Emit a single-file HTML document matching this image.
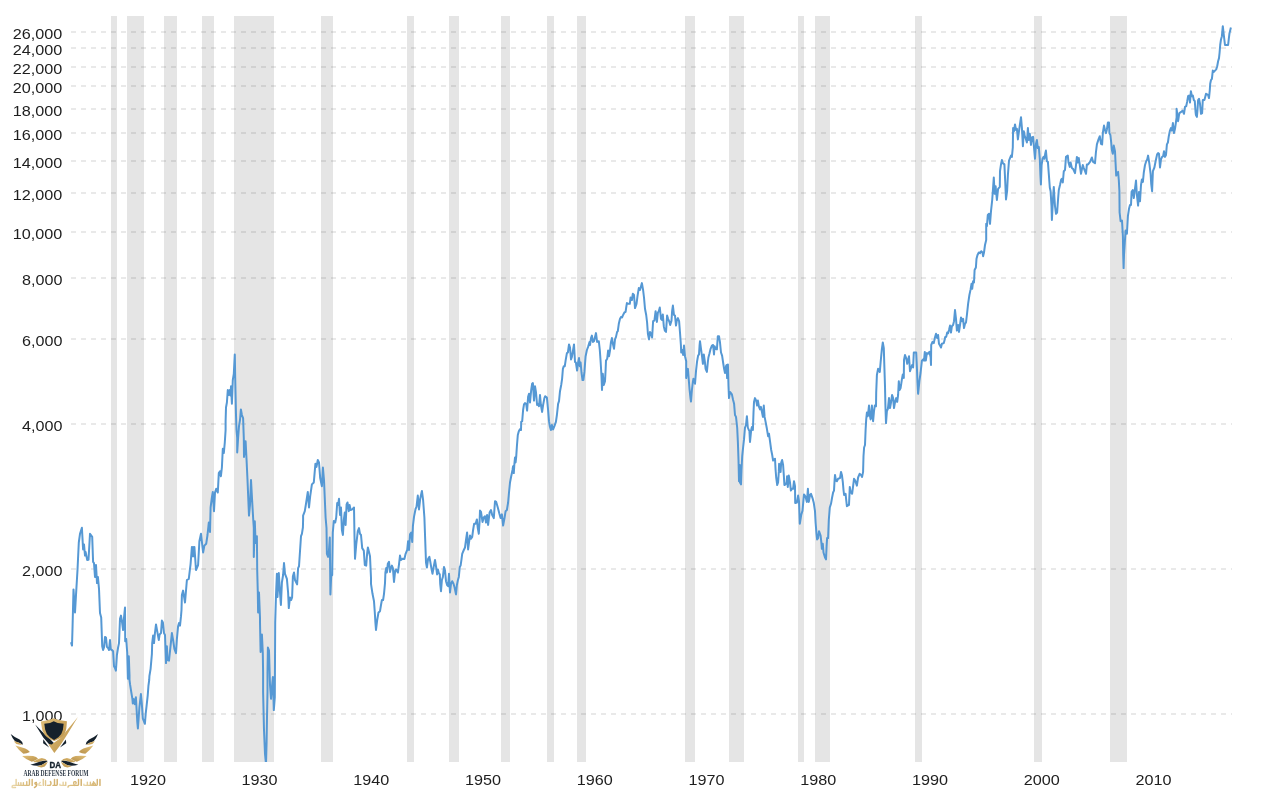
<!DOCTYPE html>
<html><head><meta charset="utf-8"><title>Chart</title>
<style>
html,body{margin:0;padding:0;background:#fff;}
body{width:1280px;height:790px;overflow:hidden;font-family:"Liberation Sans",sans-serif;}
svg{display:block;will-change:transform;}
text{font-family:"Liberation Sans",sans-serif;fill:#1e1e1e;}
</style></head><body>
<svg width="1280" height="790" viewBox="0 0 1280 790">
<rect width="1280" height="790" fill="#fff"/>
<defs><clipPath id="plot"><rect x="60" y="16" width="1180" height="746"/></clipPath></defs>

<g fill="#000" fill-opacity="0.1" shape-rendering="crispEdges">
<rect x="111" y="16" width="6" height="746"/>
<rect x="127" y="16" width="17" height="746"/>
<rect x="164" y="16" width="13" height="746"/>
<rect x="202" y="16" width="12" height="746"/>
<rect x="234" y="16" width="40" height="746"/>
<rect x="321" y="16" width="12" height="746"/>
<rect x="407" y="16" width="7" height="746"/>
<rect x="449" y="16" width="10" height="746"/>
<rect x="501" y="16" width="9" height="746"/>
<rect x="547" y="16" width="7" height="746"/>
<rect x="577" y="16" width="9" height="746"/>
<rect x="685" y="16" width="10" height="746"/>
<rect x="729" y="16" width="15" height="746"/>
<rect x="798" y="16" width="6" height="746"/>
<rect x="815" y="16" width="15" height="746"/>
<rect x="915" y="16" width="7" height="746"/>
<rect x="1034" y="16" width="8" height="746"/>
<rect x="1110" y="16" width="17" height="746"/>
</g>
<g stroke="#000" stroke-opacity="0.085" stroke-width="2" stroke-dasharray="5,5" shape-rendering="crispEdges">
<line x1="71" y1="32" x2="1232" y2="32"/>
<line x1="71" y1="48" x2="1232" y2="48"/>
<line x1="71" y1="67" x2="1232" y2="67"/>
<line x1="71" y1="86" x2="1232" y2="86"/>
<line x1="71" y1="109" x2="1232" y2="109"/>
<line x1="71" y1="133" x2="1232" y2="133"/>
<line x1="71" y1="161" x2="1232" y2="161"/>
<line x1="71" y1="193" x2="1232" y2="193"/>
<line x1="71" y1="232" x2="1232" y2="232"/>
<line x1="71" y1="278" x2="1232" y2="278"/>
<line x1="71" y1="339" x2="1232" y2="339"/>
<line x1="71" y1="424" x2="1232" y2="424"/>
<line x1="71" y1="569" x2="1232" y2="569"/>
<line x1="71" y1="714" x2="1232" y2="714"/>
</g>
<path clip-path="url(#plot)" d="M71.0,642.2 L72.0,645.6 L72.5,628.8 L73.5,589.4 L75.0,612.5 L76.0,595.0 L77.5,570.0 L78.8,542.5 L80.0,533.8 L81.9,527.8 L83.1,549.4 L84.0,544.4 L85.0,555.6 L85.6,551.9 L87.2,560.0 L88.5,559.8 L90.0,533.8 L92.2,536.9 L93.1,561.9 L94.0,563.1 L95.0,576.9 L96.0,565.0 L97.0,583.1 L97.9,576.9 L99.0,588.8 L100.0,613.1 L101.2,617.5 L102.2,646.2 L103.1,650.0 L104.0,647.5 L105.0,636.9 L106.0,637.5 L106.9,646.9 L108.1,648.1 L109.0,650.0 L110.0,640.0 L110.8,649.4 L111.9,650.0 L113.1,651.2 L114.0,666.2 L115.0,668.1 L115.9,670.6 L116.9,655.0 L118.1,647.5 L119.0,643.1 L120.0,618.8 L121.0,615.6 L122.1,622.5 L123.1,630.0 L124.0,617.5 L125.0,607.5 L125.2,641.2 L126.2,639.0 L127.2,652.5 L127.9,678.8 L128.8,656.2 L129.5,675.0 L129.5,680.0 L130.1,684.7 L131.2,691.7 L132.4,698.8 L132.8,703.4 L133.8,699.1 L134.8,704.2 L135.9,697.2 L136.7,711.2 L137.3,722.2 L137.9,728.4 L138.7,717.5 L139.4,707.3 L140.9,694.1 L141.8,703.4 L142.8,718.3 L144.9,723.8 L145.7,713.6 L146.5,706.6 L147.7,695.6 L148.4,686.2 L149.2,680.0 L149.4,676.2 L150.6,668.8 L151.9,653.8 L152.2,643.1 L153.1,635.6 L154.0,643.1 L155.0,632.5 L156.0,624.4 L157.2,631.2 L158.8,640.0 L159.6,634.4 L161.0,633.1 L161.9,620.6 L162.9,622.5 L164.0,633.1 L165.0,635.0 L166.0,663.1 L166.9,646.2 L167.5,660.0 L169.0,660.6 L170.0,651.2 L171.9,633.1 L173.1,640.0 L174.4,648.8 L176.0,653.1 L176.9,638.8 L178.1,626.2 L179.0,623.1 L180.0,625.6 L181.0,616.2 L181.5,610.0 L181.9,595.0 L183.1,590.6 L185.0,602.5 L186.9,580.0 L188.8,578.8 L190.6,563.8 L191.9,546.9 L192.5,556.2 L193.1,546.9 L193.8,556.2 L194.4,546.9 L196.0,570.0 L198.1,565.0 L199.4,541.2 L201.0,533.8 L203.1,552.5 L204.4,545.6 L206.2,543.8 L207.5,535.0 L208.8,522.5 L210.0,531.9 L210.6,507.5 L211.9,497.5 L212.8,491.9 L214.0,511.2 L215.0,492.5 L216.2,488.8 L217.8,492.5 L218.8,473.1 L220.0,471.2 L220.9,476.2 L221.9,467.5 L222.8,448.8 L223.8,453.1 L224.8,442.5 L225.6,430.0 L225.6,421.2 L226.0,407.5 L226.9,402.5 L227.8,390.0 L228.8,395.0 L229.8,390.0 L230.6,395.6 L231.0,386.2 L231.9,403.8 L232.8,380.0 L233.8,373.8 L234.8,354.4 L235.2,377.5 L235.6,396.2 L236.0,415.0 L236.5,430.0 L237.2,438.0 L237.2,452.5 L238.1,438.0 L239.0,426.2 L240.0,420.0 L240.9,409.4 L241.9,415.0 L243.1,418.1 L243.8,438.0 L244.0,456.9 L245.6,441.2 L246.5,458.8 L247.5,480.0 L249.0,515.6 L250.0,505.0 L251.0,480.0 L252.1,500.0 L253.1,517.5 L253.8,528.0 L253.8,556.9 L254.8,521.2 L255.6,543.1 L256.9,536.2 L257.2,570.0 L257.8,592.5 L258.1,612.5 L259.0,592.5 L260.0,618.0 L260.0,622.5 L260.6,651.9 L261.9,634.4 L262.8,653.1 L263.1,672.5 L263.1,692.0 L264.0,730.0 L265.0,754.0 L266.0,764.0 L266.6,742.0 L267.0,717.0 L267.5,692.0 L267.5,672.5 L267.9,647.5 L269.0,650.6 L270.0,685.0 L271.0,698.8 L271.9,687.5 L272.9,676.9 L273.8,710.1 L274.8,697.5 L275.2,622.5 L276.0,595.0 L276.9,573.8 L277.5,596.9 L278.8,573.1 L279.8,590.0 L280.9,605.0 L281.9,582.5 L283.1,575.0 L284.0,563.1 L285.0,573.8 L286.9,578.8 L288.1,592.5 L288.8,608.1 L290.0,597.5 L291.2,600.0 L292.1,597.5 L292.9,576.2 L294.0,572.5 L295.0,580.0 L297.1,584.4 L298.1,568.1 L299.0,566.2 L300.0,551.2 L301.0,536.2 L301.9,533.8 L302.9,527.5 L303.1,520.0 L303.1,515.6 L304.8,511.2 L306.2,502.5 L307.8,491.9 L309.0,507.5 L310.2,496.2 L311.9,484.4 L313.8,482.5 L315.4,463.8 L316.5,466.9 L317.8,460.0 L319.0,462.5 L320.2,478.1 L321.9,486.2 L322.9,467.5 L324.0,480.0 L324.8,498.8 L325.6,517.5 L326.5,528.0 L326.9,553.8 L328.1,556.9 L328.8,552.5 L329.8,537.5 L330.4,594.4 L331.2,576.0 L332.2,575.0 L332.8,532.5 L333.8,521.0 L335.2,522.5 L336.2,517.5 L337.2,503.1 L338.1,505.0 L339.0,498.8 L340.0,515.0 L341.0,507.5 L341.9,530.0 L342.9,535.0 L343.8,520.0 L344.8,512.5 L345.6,525.0 L346.6,504.4 L347.5,502.5 L348.8,511.2 L349.6,505.0 L350.6,510.0 L352.2,509.4 L354.0,507.5 L354.5,536.2 L355.0,558.8 L356.2,545.0 L357.8,531.2 L359.0,528.1 L360.0,533.8 L361.0,535.0 L362.2,548.1 L363.8,550.6 L364.8,565.0 L366.2,565.6 L367.1,553.8 L367.9,547.5 L369.0,551.9 L370.0,556.2 L371.0,578.0 L371.0,583.8 L372.5,593.8 L374.0,601.2 L374.8,612.5 L375.4,622.5 L376.0,630.0 L377.2,620.0 L378.5,612.5 L380.0,611.2 L381.0,605.0 L381.9,600.0 L383.1,600.0 L384.0,593.8 L385.0,583.1 L385.4,572.5 L386.2,568.1 L386.9,572.5 L387.8,563.8 L389.0,561.9 L390.0,571.9 L391.0,568.1 L391.9,565.6 L392.9,568.1 L394.0,581.9 L395.2,570.6 L396.2,569.4 L397.9,572.5 L399.0,564.4 L400.0,555.6 L401.0,560.0 L402.5,558.8 L404.4,559.0 L405.6,553.8 L406.9,550.6 L407.2,550.0 L408.1,541.2 L409.0,550.0 L410.0,534.4 L411.2,532.5 L412.2,541.9 L412.9,526.2 L414.0,516.9 L415.6,508.8 L416.5,506.9 L417.8,495.6 L419.0,509.4 L420.2,498.8 L421.9,491.0 L423.1,500.0 L424.4,517.5 L425.2,540.0 L426.0,562.5 L426.9,567.5 L428.1,558.8 L429.4,556.9 L430.2,561.2 L431.5,568.8 L432.5,573.8 L433.8,566.2 L435.0,560.0 L436.2,567.5 L437.1,574.4 L437.9,569.4 L438.8,573.1 L439.8,574.4 L440.2,583.8 L441.0,591.2 L441.9,580.0 L442.9,576.9 L444.0,566.9 L445.0,570.6 L446.0,581.2 L447.1,585.0 L448.1,586.2 L449.0,573.8 L450.0,592.5 L451.0,583.8 L452.2,581.2 L453.5,583.8 L454.6,587.5 L456.0,594.4 L456.9,585.0 L457.8,580.6 L458.8,576.9 L459.8,566.9 L460.6,565.6 L461.5,559.4 L462.2,553.8 L463.8,550.0 L465.0,547.5 L466.0,540.0 L467.1,532.5 L468.1,549.4 L469.0,542.5 L470.0,535.6 L471.0,538.8 L472.2,536.9 L473.1,530.0 L474.1,523.8 L475.6,523.8 L476.9,519.4 L477.8,528.1 L478.8,533.8 L479.6,521.2 L480.0,510.6 L481.0,511.9 L482.5,521.9 L483.8,517.5 L485.0,516.2 L486.0,522.5 L487.1,515.0 L488.1,525.0 L489.6,512.5 L491.0,510.0 L492.2,515.0 L493.8,518.1 L495.0,501.2 L496.2,501.9 L497.8,507.5 L499.4,513.8 L500.6,518.1 L501.9,514.4 L503.1,525.6 L504.4,518.8 L505.6,511.2 L506.9,510.0 L508.1,502.5 L509.0,492.5 L510.0,482.5 L511.2,476.2 L512.5,470.0 L513.1,466.2 L513.8,473.1 L514.4,463.8 L515.0,457.5 L515.6,462.5 L516.2,456.9 L516.9,446.2 L517.8,435.0 L518.8,431.2 L519.8,429.4 L521.0,430.0 L521.2,421.9 L522.2,421.2 L523.1,410.0 L524.0,404.4 L525.0,403.1 L526.2,403.8 L527.1,410.6 L528.1,396.9 L529.0,393.8 L530.0,402.5 L531.2,390.0 L532.1,383.8 L532.9,383.1 L534.0,400.6 L535.0,386.2 L536.0,392.5 L537.1,405.0 L538.1,404.4 L539.0,406.2 L540.0,395.0 L540.9,405.0 L542.1,411.9 L543.1,405.0 L544.4,398.1 L545.2,396.2 L546.9,397.5 L548.1,410.0 L549.0,421.2 L549.8,426.2 L550.9,430.0 L551.9,425.0 L553.1,429.4 L554.4,426.2 L555.9,421.9 L556.9,415.0 L558.1,403.8 L559.0,401.2 L560.0,391.2 L561.2,385.0 L562.1,378.8 L562.9,368.8 L563.8,366.2 L564.8,366.2 L565.6,360.6 L566.9,353.1 L567.9,352.5 L569.0,344.4 L570.0,347.5 L571.0,359.4 L571.9,356.9 L572.9,351.2 L574.0,344.4 L575.0,361.9 L575.9,362.5 L577.1,370.6 L578.1,362.5 L579.0,358.1 L579.8,366.2 L580.6,362.5 L581.5,372.5 L582.5,380.0 L583.4,380.0 L584.4,371.9 L585.6,356.2 L586.9,350.0 L588.1,346.9 L589.6,341.9 L590.0,345.0 L591.0,338.1 L591.9,335.6 L592.9,341.9 L594.0,341.2 L595.0,336.9 L596.0,333.1 L597.1,341.9 L598.8,341.2 L599.8,350.0 L600.6,361.2 L601.5,376.2 L602.0,390.0 L602.8,373.8 L603.8,385.0 L605.0,381.2 L605.6,370.0 L606.0,360.6 L607.2,358.8 L608.1,350.6 L609.0,356.2 L610.0,350.6 L610.9,342.5 L611.9,338.1 L612.9,343.8 L614.0,348.8 L615.0,339.4 L616.0,336.9 L617.1,331.9 L617.8,331.2 L618.8,323.8 L620.0,318.8 L621.2,316.9 L622.1,317.5 L623.1,315.0 L624.4,312.5 L625.6,311.9 L626.2,307.5 L626.9,303.1 L628.1,303.8 L629.8,303.8 L630.6,297.5 L631.9,300.0 L632.8,293.8 L634.0,295.0 L635.0,308.1 L636.5,303.8 L637.5,296.2 L638.8,288.1 L640.0,290.0 L641.9,283.1 L643.1,290.0 L644.0,297.5 L645.0,308.8 L646.2,315.0 L647.1,322.5 L647.9,333.8 L649.0,339.4 L650.0,331.9 L651.0,333.8 L652.1,337.5 L653.1,321.2 L654.4,320.6 L655.6,311.2 L656.9,321.9 L657.9,312.5 L658.8,311.2 L659.8,307.5 L661.0,318.8 L661.9,320.0 L662.8,314.4 L663.8,326.2 L664.8,330.6 L666.0,331.9 L667.1,315.6 L668.1,318.8 L669.4,321.9 L670.2,325.0 L671.5,320.6 L672.1,311.2 L672.9,305.6 L674.0,315.0 L675.0,315.6 L676.0,325.6 L676.9,320.0 L677.9,318.1 L679.1,321.2 L680.0,332.5 L680.9,345.0 L681.2,352.5 L682.5,350.0 L683.1,355.0 L684.0,345.6 L685.0,356.2 L686.2,361.2 L686.2,378.1 L686.9,371.2 L687.9,368.8 L688.8,380.0 L689.6,390.0 L690.4,397.5 L691.0,401.5 L691.9,390.0 L692.8,382.5 L693.4,378.8 L695.0,383.8 L696.0,371.2 L697.1,361.2 L698.1,355.6 L699.0,354.4 L699.6,345.0 L700.0,341.2 L701.0,348.8 L702.1,356.9 L702.9,363.8 L703.8,354.4 L704.8,361.2 L705.6,368.8 L706.9,371.9 L707.8,362.5 L708.4,357.5 L709.4,353.8 L710.6,348.8 L711.9,345.6 L713.1,345.0 L714.0,354.4 L714.6,346.2 L715.6,348.8 L716.9,349.4 L717.8,336.2 L719.0,336.2 L720.0,342.5 L721.0,352.5 L722.1,355.6 L723.1,362.5 L724.1,368.8 L725.0,373.1 L726.0,366.2 L726.6,365.0 L727.1,378.1 L727.9,364.4 L728.5,386.2 L729.0,398.1 L730.0,391.9 L731.9,394.4 L733.1,400.0 L734.1,403.8 L735.0,415.0 L736.0,416.9 L736.9,425.0 L737.2,428.0 L737.9,442.5 L738.5,460.0 L739.0,481.2 L739.8,465.0 L740.0,482.5 L741.0,484.4 L741.5,470.0 L742.2,456.2 L743.1,447.5 L744.0,439.4 L745.0,427.5 L746.0,425.0 L746.9,416.2 L747.8,427.5 L748.8,430.0 L749.4,430.6 L750.0,441.9 L751.2,430.0 L751.9,426.9 L752.9,430.0 L753.5,412.5 L754.0,401.9 L755.0,398.1 L756.2,400.6 L757.1,405.6 L757.9,400.6 L759.0,406.9 L760.0,409.4 L760.9,406.9 L761.9,411.9 L762.9,416.9 L763.8,405.6 L764.6,416.9 L765.6,421.9 L766.9,428.8 L768.1,436.2 L769.0,433.8 L770.0,441.2 L771.2,450.0 L772.2,455.0 L773.1,460.6 L775.0,458.8 L775.6,470.0 L776.2,477.5 L777.2,485.0 L778.1,482.5 L778.8,471.9 L779.1,463.8 L780.0,465.0 L780.6,471.9 L781.2,462.5 L782.1,460.0 L783.1,465.0 L783.8,475.0 L784.4,485.0 L785.6,484.4 L786.6,482.5 L787.1,476.2 L787.8,486.9 L788.8,475.6 L790.0,482.5 L790.9,490.6 L791.9,488.8 L793.1,488.8 L794.0,481.2 L795.0,486.2 L795.2,503.1 L796.9,502.5 L798.1,495.6 L799.0,501.2 L799.8,523.8 L801.2,515.0 L802.5,510.6 L803.4,500.6 L804.0,494.4 L805.6,496.9 L806.9,501.9 L807.9,488.8 L808.8,501.9 L810.0,495.0 L811.0,493.8 L812.5,498.1 L813.8,503.1 L815.0,511.2 L815.6,522.5 L816.5,533.8 L817.1,539.4 L818.1,538.1 L819.0,531.2 L820.6,535.6 L821.5,543.8 L821.9,548.8 L822.8,543.8 L823.5,552.5 L825.0,557.5 L826.0,559.4 L826.6,546.2 L827.1,538.1 L828.1,538.1 L828.8,520.0 L829.8,507.5 L831.0,503.8 L832.1,497.5 L833.1,492.5 L834.0,490.6 L834.6,480.0 L835.0,475.0 L836.0,480.6 L836.9,481.2 L838.1,478.8 L840.0,478.1 L841.0,471.9 L841.9,475.0 L842.8,481.9 L843.5,490.0 L844.1,495.0 L845.6,493.8 L846.2,500.0 L846.9,506.2 L849.0,505.0 L849.8,486.9 L850.6,491.9 L852.1,493.8 L853.1,486.2 L854.0,478.8 L855.2,480.6 L856.9,485.6 L858.1,477.5 L859.6,473.8 L861.0,475.0 L862.1,476.9 L863.1,471.9 L863.1,471.2 L863.5,456.2 L864.1,447.5 L865.0,445.0 L865.6,430.0 L866.2,419.4 L866.9,412.5 L867.8,416.2 L868.4,411.2 L869.0,405.6 L869.8,415.0 L870.6,419.4 L871.2,415.0 L871.9,405.6 L872.5,415.0 L873.1,421.2 L874.0,411.2 L874.8,405.6 L876.0,406.2 L876.2,392.5 L876.9,375.0 L878.1,368.8 L879.8,371.9 L880.6,362.5 L881.9,348.8 L882.8,342.5 L883.8,348.1 L884.4,367.5 L885.0,386.2 L885.4,405.0 L886.0,423.1 L886.9,411.2 L887.9,408.8 L889.0,398.1 L890.0,408.1 L891.0,402.5 L892.1,395.0 L893.1,398.1 L894.0,408.1 L895.2,401.2 L896.2,398.1 L897.2,401.9 L898.1,395.0 L898.8,381.2 L899.6,390.0 L900.6,388.1 L901.9,379.4 L902.8,374.4 L903.8,378.1 L904.0,360.0 L905.0,355.0 L906.2,358.1 L907.2,363.8 L908.1,360.0 L909.0,356.2 L910.0,371.2 L911.2,367.5 L912.1,365.0 L913.1,367.5 L913.8,352.5 L915.0,352.5 L916.2,352.5 L916.9,367.5 L917.5,382.5 L918.1,393.8 L919.4,381.2 L920.6,372.5 L921.9,360.6 L923.1,359.4 L924.0,360.6 L924.8,351.9 L925.8,360.6 L926.9,353.1 L928.1,353.8 L929.4,351.9 L930.6,356.9 L931.0,365.0 L931.2,345.0 L932.5,341.9 L933.8,343.1 L934.8,338.1 L936.0,333.8 L937.1,338.1 L938.1,335.0 L939.0,343.8 L940.0,345.6 L941.0,347.5 L941.9,343.8 L943.8,343.1 L944.6,340.0 L945.2,336.9 L946.2,336.9 L947.2,332.5 L948.1,333.1 L949.0,330.0 L950.0,325.6 L951.0,332.5 L951.9,326.2 L953.1,325.0 L954.0,321.2 L955.0,310.0 L956.0,318.8 L956.9,330.6 L958.1,325.0 L959.0,331.9 L960.0,325.0 L961.0,317.5 L962.1,321.2 L963.1,318.8 L964.0,328.1 L965.0,323.8 L966.0,322.5 L966.9,315.0 L968.1,303.8 L969.4,295.0 L970.6,289.4 L971.5,283.8 L972.2,288.8 L973.1,281.2 L974.0,282.5 L974.6,270.0 L975.9,267.5 L976.5,258.8 L977.5,255.0 L978.8,252.5 L980.0,253.1 L981.2,251.2 L982.5,252.5 L983.1,256.2 L984.0,252.5 L985.0,245.0 L986.2,240.0 L986.2,240.0 L986.2,223.8 L986.9,226.2 L987.8,215.0 L989.0,213.8 L990.0,223.8 L991.0,211.2 L992.2,200.0 L993.1,187.5 L993.8,177.5 L994.6,193.8 L995.6,186.2 L996.9,200.0 L998.1,188.8 L999.8,186.9 L1000.0,171.2 L1001.0,164.4 L1001.9,160.0 L1002.8,163.1 L1004.4,164.4 L1005.2,181.2 L1006.0,199.4 L1007.1,191.2 L1007.9,175.0 L1009.0,160.6 L1010.0,158.1 L1011.0,155.6 L1011.9,156.9 L1012.8,147.5 L1013.1,128.1 L1014.0,131.2 L1015.0,124.4 L1016.0,130.0 L1016.9,128.8 L1017.9,139.4 L1019.0,131.2 L1020.0,123.8 L1021.0,117.2 L1021.9,127.5 L1022.9,146.2 L1023.8,131.2 L1024.8,136.2 L1025.6,138.1 L1026.9,142.5 L1027.9,128.1 L1028.8,140.0 L1029.8,133.8 L1031.0,145.0 L1031.9,137.5 L1033.1,136.9 L1034.0,147.5 L1035.0,158.8 L1036.0,143.8 L1036.9,140.0 L1037.8,148.1 L1038.8,146.9 L1039.8,158.8 L1040.4,175.0 L1040.9,184.4 L1041.6,165.0 L1042.5,158.8 L1043.5,156.9 L1044.4,158.8 L1045.2,153.8 L1045.9,150.6 L1046.9,161.2 L1047.9,161.9 L1048.8,173.8 L1049.8,187.5 L1050.6,191.2 L1051.5,206.2 L1051.9,220.0 L1052.9,200.0 L1053.8,186.9 L1054.4,197.5 L1055.0,206.2 L1056.0,213.8 L1057.1,212.5 L1058.1,198.8 L1058.8,190.0 L1060.0,185.0 L1061.2,179.4 L1061.9,178.8 L1062.8,182.5 L1063.8,171.2 L1065.0,170.0 L1066.0,156.9 L1066.9,156.2 L1067.8,155.6 L1068.5,162.5 L1069.8,166.9 L1070.6,162.5 L1071.9,168.1 L1073.1,168.8 L1075.0,173.1 L1076.0,165.0 L1076.9,156.9 L1077.8,162.5 L1078.8,158.1 L1079.8,165.0 L1081.0,173.8 L1081.9,169.4 L1082.8,165.0 L1083.8,168.1 L1085.0,171.2 L1086.0,173.8 L1086.9,164.4 L1088.1,164.4 L1090.0,161.9 L1091.9,157.5 L1093.1,161.9 L1095.0,163.1 L1095.9,152.5 L1096.9,144.4 L1098.5,139.4 L1099.8,136.2 L1101.0,143.8 L1102.1,144.4 L1102.9,132.5 L1104.0,125.6 L1105.0,130.0 L1106.0,133.1 L1106.9,129.4 L1107.9,122.5 L1109.0,122.5 L1109.4,133.1 L1110.4,135.0 L1111.2,142.5 L1111.9,150.0 L1112.8,153.8 L1113.8,145.6 L1115.0,151.2 L1115.6,163.8 L1116.2,175.6 L1117.1,173.8 L1118.1,171.9 L1118.8,180.0 L1119.4,191.2 L1119.4,192.5 L1119.6,212.5 L1120.6,221.2 L1122.0,220.6 L1122.9,236.2 L1123.2,255.0 L1123.6,268.1 L1124.0,255.0 L1124.8,242.5 L1125.6,230.6 L1126.9,233.8 L1127.9,216.2 L1129.0,208.8 L1130.0,205.0 L1131.0,205.0 L1131.6,191.9 L1132.8,190.0 L1133.8,198.1 L1134.8,190.0 L1136.0,180.6 L1136.9,195.0 L1138.1,205.6 L1139.0,191.9 L1140.0,201.2 L1141.0,185.0 L1141.9,179.4 L1142.9,181.9 L1143.8,172.5 L1145.0,165.0 L1146.2,161.2 L1147.2,159.4 L1148.1,155.6 L1149.4,163.8 L1150.6,173.8 L1151.2,183.8 L1152.1,191.2 L1152.9,171.2 L1154.4,167.5 L1155.6,161.2 L1157.1,154.4 L1158.1,153.1 L1159.0,153.8 L1160.0,167.5 L1161.0,159.4 L1162.1,156.9 L1163.1,156.2 L1164.0,151.2 L1165.0,156.9 L1166.0,155.0 L1166.9,144.4 L1167.9,142.5 L1168.8,136.2 L1169.8,131.2 L1170.9,128.1 L1171.9,130.6 L1172.9,123.1 L1174.0,133.1 L1175.0,128.8 L1175.9,122.5 L1176.6,117.5 L1176.6,108.8 L1178.1,121.2 L1179.0,115.0 L1179.4,113.1 L1181.2,111.9 L1182.5,110.6 L1184.0,113.8 L1185.0,106.9 L1186.2,106.2 L1187.1,101.9 L1188.1,96.2 L1189.0,95.6 L1190.0,102.5 L1190.9,91.2 L1191.9,96.2 L1192.9,95.6 L1193.8,100.0 L1194.8,101.2 L1195.6,112.5 L1195.9,115.0 L1196.9,116.9 L1197.5,110.0 L1198.1,100.0 L1199.0,98.8 L1200.0,103.8 L1201.0,113.8 L1202.1,113.1 L1202.8,100.0 L1204.4,100.0 L1205.4,96.2 L1206.0,93.8 L1207.1,94.4 L1208.1,95.0 L1209.0,98.1 L1209.8,90.0 L1210.2,83.8 L1211.0,80.0 L1211.9,78.8 L1212.8,70.6 L1213.8,71.9 L1215.0,70.6 L1216.2,69.4 L1217.2,66.2 L1218.1,61.2 L1219.0,58.1 L1219.6,52.5 L1220.2,45.0 L1221.0,39.4 L1221.9,36.2 L1222.8,26.2 L1223.8,35.0 L1225.0,45.0 L1226.2,45.0 L1228.1,45.0 L1228.8,38.8 L1229.4,33.8 L1230.0,31.2 L1230.9,27.5" fill="none" stroke="#5598d4" stroke-width="2" stroke-linejoin="round" stroke-linecap="butt"/>
<g font-size="14.5" text-anchor="end">
<text x="62.4" y="39" textLength="49.6" lengthAdjust="spacingAndGlyphs">26,000</text>
<text x="62.4" y="55" textLength="49.6" lengthAdjust="spacingAndGlyphs">24,000</text>
<text x="62.4" y="74" textLength="49.6" lengthAdjust="spacingAndGlyphs">22,000</text>
<text x="62.4" y="93" textLength="49.6" lengthAdjust="spacingAndGlyphs">20,000</text>
<text x="62.4" y="116" textLength="49.6" lengthAdjust="spacingAndGlyphs">18,000</text>
<text x="62.4" y="140" textLength="49.6" lengthAdjust="spacingAndGlyphs">16,000</text>
<text x="62.4" y="168" textLength="49.6" lengthAdjust="spacingAndGlyphs">14,000</text>
<text x="62.4" y="200" textLength="49.6" lengthAdjust="spacingAndGlyphs">12,000</text>
<text x="62.4" y="239" textLength="49.6" lengthAdjust="spacingAndGlyphs">10,000</text>
<text x="62.4" y="285" textLength="40.4" lengthAdjust="spacingAndGlyphs">8,000</text>
<text x="62.4" y="346" textLength="40.4" lengthAdjust="spacingAndGlyphs">6,000</text>
<text x="62.4" y="431" textLength="40.4" lengthAdjust="spacingAndGlyphs">4,000</text>
<text x="62.4" y="576" textLength="40.4" lengthAdjust="spacingAndGlyphs">2,000</text>
<text x="62.4" y="721" textLength="40.4" lengthAdjust="spacingAndGlyphs">1,000</text>
</g>
<g font-size="14.5" text-anchor="middle">
<text x="147.9" y="785.3" textLength="36" lengthAdjust="spacingAndGlyphs">1920</text>
<text x="259.6" y="785.3" textLength="36" lengthAdjust="spacingAndGlyphs">1930</text>
<text x="371.3" y="785.3" textLength="36" lengthAdjust="spacingAndGlyphs">1940</text>
<text x="483.1" y="785.3" textLength="36" lengthAdjust="spacingAndGlyphs">1950</text>
<text x="594.8" y="785.3" textLength="36" lengthAdjust="spacingAndGlyphs">1960</text>
<text x="706.5" y="785.3" textLength="36" lengthAdjust="spacingAndGlyphs">1970</text>
<text x="818.2" y="785.3" textLength="36" lengthAdjust="spacingAndGlyphs">1980</text>
<text x="929.9" y="785.3" textLength="36" lengthAdjust="spacingAndGlyphs">1990</text>
<text x="1041.7" y="785.3" textLength="36" lengthAdjust="spacingAndGlyphs">2000</text>
<text x="1153.4" y="785.3" textLength="36" lengthAdjust="spacingAndGlyphs">2010</text>
</g>
<defs>
<linearGradient id="gold" x1="0" y1="0" x2="1" y2="1"><stop offset="0" stop-color="#e2c27c"/><stop offset="0.55" stop-color="#caa45c"/><stop offset="1" stop-color="#b8924c"/></linearGradient>
<linearGradient id="gold2" x1="0" y1="0" x2="1" y2="0"><stop offset="0" stop-color="#ead8ac"/><stop offset="0.5" stop-color="#dcbf82"/><stop offset="1" stop-color="#d2ae68"/></linearGradient>
</defs>
<g transform="translate(8,712) scale(0.075)">
<!-- V check: gold right arm + bottom -->
<path d="M932,66 L800,225 L700,345 L618,405 L540,432 L618,548 L700,440 L790,300 Z" fill="url(#gold)"/>
<!-- navy left blade -->
<path d="M362,168 L470,275 L560,360 L608,410 L585,432 L545,428 L470,340 Z" fill="#15212c"/>
<!-- shield gold -->
<path d="M438,128 L545,108 L610,84 L675,108 L786,124 L778,215 Q765,300 700,345 L616,388 L535,345 Q462,290 452,215 Z" fill="url(#gold)"/>
<!-- shield navy -->
<path d="M484,158 L560,146 L610,124 L662,146 L742,158 L732,235 Q718,300 672,335 L614,372 L558,335 Q508,295 496,235 Z" fill="#15212c"/>
<!-- small navy triangles -->
<path d="M470,362 L548,472 L468,418 Z" fill="#15212c"/>
<path d="M772,366 L694,472 L776,418 Z" fill="#15212c"/>
<!-- left wing -->
<g id="wingL">
<path d="M36,294 Q95,345 155,366 Q192,388 200,438 Q150,404 96,394 Q62,362 36,294 Z" fill="#15212c"/>
<path d="M78,388 Q130,396 192,438 Q150,440 112,428 Q92,412 78,388 Z" fill="url(#gold)"/>
<path d="M98,448 Q170,468 230,486 Q270,500 292,532 Q250,556 205,556 Q150,520 98,448 Z" fill="url(#gold)"/>
<path d="M188,586 Q260,578 335,586 Q380,596 400,622 Q360,650 318,664 Q250,640 188,586 Z" fill="url(#gold)"/>
<path d="M335,664 Q390,622 450,612 Q505,618 528,652 Q470,640 420,662 Q380,680 335,664 Z" fill="url(#gold)"/>
<path d="M298,702 Q360,686 420,664 Q480,646 530,654 Q492,686 450,706 Q390,728 298,702 Z" fill="#15212c"/>
<path d="M385,728 Q450,712 528,662 Q520,700 490,728 Q450,750 385,728 Z" fill="url(#gold)"/>
</g>
<use href="#wingL" transform="translate(1236,0) scale(-1,1)"/>
<!-- DA -->
<text x="630" y="745" text-anchor="middle" font-size="118" textLength="154" stroke="#15212c" stroke-width="5" lengthAdjust="spacingAndGlyphs" style="fill:#15212c;font-family:'Liberation Sans',sans-serif;font-weight:bold">DA</text>
<!-- ARAB DEFENSE FORUM -->
<text x="640" y="851" text-anchor="middle" font-size="112" textLength="868" lengthAdjust="spacingAndGlyphs" style="fill:#2f3b49;font-family:'Liberation Serif',serif;font-weight:bold">ARAB DEFENSE FORUM</text>
<!-- Arabic approximated strokes -->
<g fill="none" stroke="url(#gold2)" stroke-width="19" stroke-linecap="round" stroke-linejoin="round" transform="translate(0,666.7)">
<!-- word1 (rightmost) -->
<path d="M1226,232 V312 M1190,232 V300 Q1190,312 1175,312 H1020 Q1008,312 1012,296 M1140,262 V312 M1098,270 V312 M1058,270 V312 M1120,300 Q1150,255 1165,300"/>
<path d="M1092,240 h14" stroke-width="14"/>
<!-- word2 -->
<path d="M976,232 V312 M940,232 V300 Q940,312 925,312 H835 M885,312 Q860,255 900,262 Q915,270 905,290 M835,312 Q800,312 800,335 M770,270 V312 H700 Q690,312 692,295 M735,270 V312"/>
<path d="M715,338 h30" stroke-width="12"/>
<!-- word3 -->
<path d="M656,232 V300 Q656,312 640,312 H600 M620,232 V312 M565,260 Q585,290 560,312 H525 M500,250 V312 M470,232 V312 M440,312 H412 Q405,290 430,272"/>
<path d="M498,232 h10" stroke-width="12"/>
<!-- word4 -->
<path d="M378,272 Q355,270 360,290 Q372,302 384,290 Q388,320 352,340 M322,232 V312 M286,232 V300 Q286,312 270,312 H120 M250,262 V312 M205,275 V312 M172,275 V312 M140,275 V312 M108,232 V312 M108,312 H70 Q52,312 56,340 H100"/>
<path d="M244,240 h18" stroke-width="12"/>
</g>
</g>

</svg></body></html>
